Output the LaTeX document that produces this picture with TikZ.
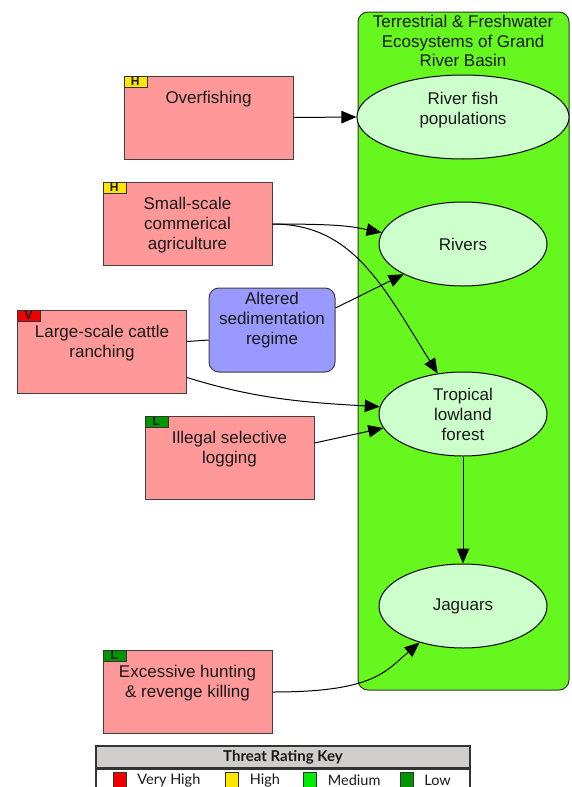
\documentclass[tikz,border=0pt]{standalone}
\usepackage{fontspec}
\setmainfont{Liberation Sans}
\newfontfamily\keyfont{Lato}
\usetikzlibrary{shapes, arrows.meta, positioning}

\definecolor{threatpink}{RGB}{255,153,153}
\definecolor{factorblue}{RGB}{153,153,255}
\definecolor{scopegreen}{RGB}{102,248,30}
\definecolor{targetgreen}{RGB}{204,255,204}
\definecolor{ratevh}{RGB}{240,0,0}
\definecolor{rateh}{RGB}{255,230,0}
\definecolor{ratem}{RGB}{0,235,0}
\definecolor{ratel}{RGB}{0,150,0}
\definecolor{keygray}{RGB}{208,206,204}

\newcommand{\toptext}[3]{\parbox[c][#2][t]{#1}{\centering\strut #3}}

\tikzset{
    threat/.style={draw=black!75, fill=threatpink, line width=1pt,
                   minimum width=169pt, minimum height=83pt,
                   inner xsep=4.5pt, inner ysep=13pt},
    factor/.style={draw=black!75, fill=factorblue, rounded corners=10pt,
                   line width=1pt, minimum width=126pt, minimum height=84pt,
                   inner xsep=3pt, inner ysep=2pt},
    target/.style={ellipse, draw=black, fill=targetgreen, line width=1pt,
                   minimum width=168pt, minimum height=84pt, inner sep=0pt,
                   align=center},
    rating/.style={draw=black!80, fill=#1, minimum width=23pt,
                   minimum height=11pt, inner sep=0pt, anchor=north west,
                   font=\fontsize{12}{12}\selectfont\bfseries},
    link/.style={-{Triangle[length=15pt,width=12.5pt]}, line width=1pt},
    keysq/.style={draw=black!80, fill=#1, minimum width=13pt,
                  minimum height=15pt, inner sep=0pt},
    keytxt/.style={inner sep=1pt, font=\keyfont\fontsize{14.5}{15}\selectfont}
}

\begin{document}
\begin{tikzpicture}[x=1pt, y=-1pt, text=black!90,
                    font=\fontsize{17}{20}\selectfont]
    \useasboundingbox (0,0) rectangle (572,787);
    \clip (0,0) rectangle (572,787);

    \node[draw=black!80, fill=scopegreen, rounded corners=10pt,
          line width=1pt, minimum width=211pt, minimum height=678pt,
          inner sep=0pt] (eco) at (463.5,351) {};
    \node[align=center, font=\fontsize{17}{19.5}\selectfont] (ecotitle)
        at (463,41) {Terrestrial \& Freshwater\\Ecosystems of Grand\\River Basin};

    \node[target] (fish) at (463,117)
        {\parbox[c][54pt][t]{150pt}{\centering\strut River fish\\populations}};
    \node[target] (riv) at (463,244) {Rivers};
    \node[target] (for) at (463,414) {Tropical\\lowland\\forest};
    \node[target] (jag) at (463,606) {Jaguars};

    \node[threat] (over) at (208.5,117.5) {\toptext{160pt}{57pt}{Overfishing}};
    \node[threat] (sag) at (187.5,224)
        {\toptext{160pt}{57pt}{Small-scale\\commerical\\agriculture}};
    \node[threat] (cat) at (102,351.5)
        {\toptext{160pt}{57pt}{Large-scale cattle\\ranching}};
    \node[threat] (log) at (229.5,458)
        {\toptext{160pt}{57pt}{Illegal selective\\logging}};
    \node[threat] (hunt) at (187.5,692)
        {\toptext{160pt}{57pt}{Excessive hunting\\\& revenge killing}};
    \node[factor] (alt) at (272,330)
        {\toptext{120pt}{80pt}{Altered\\sedimentation\\regime}};

    \node[rating=rateh] (overr) at (over.north west) {H};
    \node[rating=rateh] (sagr) at (sag.north west) {H};
    \node[rating=ratevh] (catr) at (cat.north west) {V};
    \node[rating=ratel] (logr) at (log.north west) {L};
    \node[rating=ratel] (huntr) at (hunt.north west) {L};

    \draw[link] (over.east) -- (fish.west);
    \draw[link] (sag.east) .. controls +(70,0) and +(-30,-6) .. (riv.172);
    \draw[link] (sag.east) .. controls +(80,0) and +(-55,-88) .. (for.122);
    \draw[line width=1pt] ([yshift=10pt]cat.east) -- ([yshift=-10pt]alt.west);
    \draw[link] ([yshift=22pt]alt.east) -- (riv.207);
    \draw[link] ([yshift=-26pt]cat.east) .. controls +(70,22) and +(-70,-4) .. (for.175);
    \draw[link] ([yshift=15pt]log.east) -- (for.190);
    \draw[link] (for.south) -- (jag.north);
    \draw[link] (hunt.east) .. controls +(100,0) and +(-35,30) .. (jag.220);

    \node[draw=black!80, line width=1.2pt, fill=keygray, minimum width=374pt,
          minimum height=22pt, inner sep=0pt,
          font=\keyfont\bfseries\fontsize{15}{15}\selectfont] (keyhead)
        at (283,757) {Threat Rating Key};
    \node[draw=black!80, line width=1.2pt, fill=white, minimum width=374pt,
          minimum height=30pt, inner sep=0pt, anchor=north] (keybody)
        at (keyhead.south) {};
    \node[keysq=ratevh] (kvh) at (119.5,780) {};
    \node[keytxt, right=10pt of kvh] (tvh) {Very High};
    \node[keysq=rateh] (kh) at (232,780) {};
    \node[keytxt, right=10pt of kh] (th) {High};
    \node[keysq=ratem] (km) at (310,780) {};
    \node[keytxt, right=10pt of km] (tm) {Medium};
    \node[keysq=ratel] (kl) at (406.5,780) {};
    \node[keytxt, right=10pt of kl] (tl) {Low};
\end{tikzpicture}
\end{document}
